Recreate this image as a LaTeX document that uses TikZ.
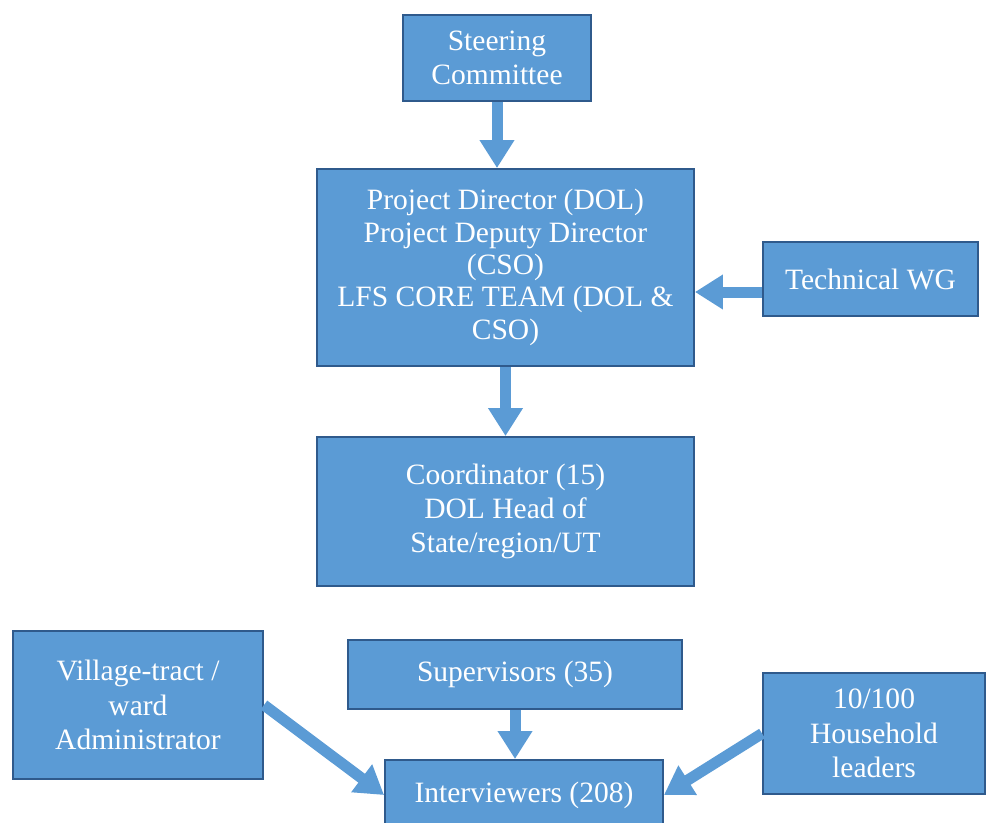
\documentclass[tikz,border=0pt]{standalone}
\usepackage{fontspec}
\setmainfont{Liberation Serif}
\usetikzlibrary{arrows.meta,calc}
\definecolor{boxfill}{HTML}{5B9BD5}
\definecolor{boxline}{HTML}{2F5A8C}

\begin{document}
\begin{tikzpicture}[x=0.02cm,y=-0.02cm,
    unit/.style={draw=boxline,fill=boxfill,line width=1.1pt,inner sep=0pt,
      text=white,align=center,font=\fontsize{16.8}{19.5}\selectfont},
    link/.style={boxfill,line width=0.22cm,-{Triangle[width=0.66cm,length=0.56cm]}}]
  \clip (0,0) rectangle (997,822);
  \node[unit,minimum width=3.76cm,minimum height=1.72cm] (steering) at (497,58)
    {Steering\\Committee};
  \node[unit,minimum width=7.54cm,minimum height=3.94cm,
    font=\fontsize{16.8}{18.4}\selectfont] (director) at (505.5,267.5)
    {Project Director (DOL)\\Project Deputy Director\\(CSO)\\LFS CORE TEAM (DOL \&\\CSO)};
  \node[unit,minimum width=4.30cm,minimum height=1.48cm] (techwg) at (870.5,279)
    {Technical WG};
  \node[unit,minimum width=7.54cm,minimum height=2.98cm] (coord) at (505.5,511.5)
    {Coordinator (15)\\DOL Head of\\State/region/UT};
  \node[unit,minimum width=5.00cm,minimum height=2.96cm] (village) at (138,705)
    {Village-tract /\\ward\\Administrator};
  \node[unit,minimum width=6.68cm,minimum height=1.38cm] (supervisors) at (515,674.5)
    {Supervisors (35)};
  \node[unit,minimum width=4.44cm,minimum height=2.42cm] (household) at (874,733.5)
    {10/100\\Household\\leaders};
  \node[unit,minimum width=5.56cm,minimum height=1.40cm] (interviewers) at (524,795)
    {Interviewers (208)};

  \draw[link] (steering.south) -- (steering.south |- director.north);
  \draw[link] ($(techwg.west)+(0,13)$) -- ($(director.east |- techwg.west)+(0,13)$);
  \draw[link] (director.south) -- (coord.north);
  \draw[link] (supervisors.south) -- (supervisors.south |- interviewers.north);
  \draw[link] (village.east) -- (interviewers.west);
  \draw[link] (household.west) -- (interviewers.east);
\end{tikzpicture}
\end{document}
